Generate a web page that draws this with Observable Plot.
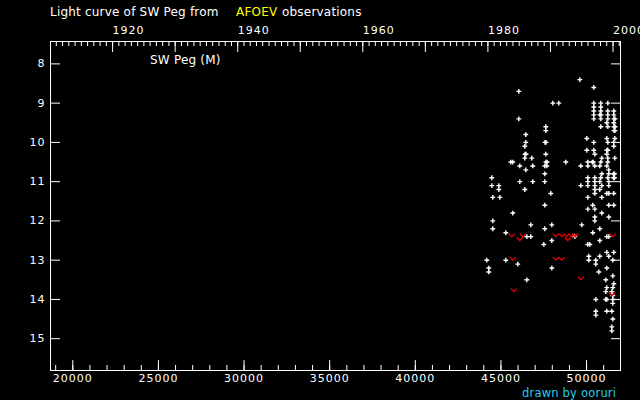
<!DOCTYPE html>
<html><head><meta charset="utf-8">
<script src="https://cdn.jsdelivr.net/npm/d3@7"></script>
<script src="https://cdn.jsdelivr.net/npm/@observablehq/plot@0.6"></script>
<style>
html,body{margin:0;padding:0;background:#000;overflow:hidden;}
#wrap{position:relative;width:640px;height:400px;background:#000;font-family:"DejaVu Sans",sans-serif;}
#wrap svg{display:block;}
.lbl{position:absolute;white-space:nowrap;font-size:12px;line-height:14px;color:#fff;letter-spacing:0.2px;}
</style></head><body><div id="wrap"></div>
<script>
// ---- data (JD - 2400000, visual magnitude) ----
const obsLevels = [8.4, 8.6, 8.7, 9.0, 9.1, 9.2, 9.3, 9.4, 9.5, 9.6, 9.7, 9.8, 9.9,
  10.0, 10.1, 10.2, 10.3, 10.4, 10.5, 10.6, 10.7, 10.8, 10.9,
  11.0, 11.1, 11.2, 11.3, 11.4, 11.6, 11.7, 11.8, 11.9,
  12.0, 12.1, 12.2, 12.3, 12.4, 12.5, 12.6, 12.8, 12.9,
  13.0, 13.1, 13.2, 13.3, 13.4, 13.5, 13.6, 13.7, 13.8, 13.9,
  14.0, 14.1, 14.3, 14.4, 14.5, 14.7, 14.8];
const obsDays = [
  [49606],
  [50423],
  [46044],
  [48029, 48380, 50423, 50832, 51241],
  [50423, 50832],
  [50423, 50832, 51241, 51591],
  [50423, 50774, 50850, 51241, 51591],
  [46044, 50423, 50832, 51241, 51603, 51662],
  [51182, 51591],
  [47620, 50832, 51241, 51603, 51662],
  [47620, 51603, 51662],
  [46453],
  [50015, 51182, 51650],
  [46453, 47574, 47632, 50423, 51241, 51591],
  [46394, 51591],
  [50015, 50423, 51182, 51241],
  [46406, 46464, 47620, 50482, 51182],
  [46394, 46803, 50890, 51241, 51650],
  [45577, 45693, 47632, 47690, 48788, 50073, 50336, 50394, 50832, 51241],
  [46102, 46861, 47562, 47679, 49664, 50073, 50482, 50774, 51182],
  [46453, 51299],
  [47562, 50890, 51299, 51574, 51632],
  [44467, 50073, 50482, 50832, 51241, 51574, 51632],
  [46102, 46861, 47562, 50073, 50482, 50774, 51299],
  [44467, 44876, 49664, 50073, 50482, 50890, 51299],
  [44876, 46394, 50482, 50774],
  [47912, 50482, 51182, 51299, 51591],
  [44525, 44934, 50073, 50890],
  [47562, 50365, 51299, 51591],
  [50073, 50482],
  [45693, 50890],
  [50482, 51299],
  [44525, 50482],
  [46744, 47971, 49723],
  [44525, 47562, 50774],
  [45285, 50365],
  [46511, 46744, 49314, 51182, 51299],
  [47971, 50774],
  [47504, 50073, 50190],
  [51182, 51591],
  [50131, 50774, 51299],
  [44175, 45285, 50131, 50540, 51533],
  [45985, 50540],
  [44292, 47971, 51182],
  [44292, 50715],
  [51533],
  [46511, 51124],
  [51591],
  [51182, 51533],
  [51124, 51474],
  [51533],
  [50540, 51124, 51182, 51533],
  [51533],
  [50540, 51182, 51474],
  [50540],
  [51533],
  [51474],
  [51474]
];
// "fainter than" observations
const limLevels = [12.4, 12.5, 13.0, 13.5, 13.8, 13.9];
const limDays = [
  [45635, 46277, 48204, 48554, 48829, 49104, 49314, 49330, 51533],
  [46102, 48905],
  [45693, 48204, 48554],
  [49664],
  [45752],
  [51486]
];
const magTicks = [8, 9, 10, 11, 12, 13, 14, 15];
const jdLabelTicks = [20000, 25000, 30000, 35000, 40000, 45000, 50000];
const yearLabels = [1920, 1940, 1960, 1980, 2000];
const titleParts = ["Light curve of SW Peg from", "AFOEV", "observations"];
const starLabel = "SW Peg (M)";
const credit = "drawn by ooruri";

// ---- build ----
const xDomain = [18698, 51982];
const obs = obsLevels.flatMap((m, i) => obsDays[i].map(d => ({jd: d, mag: m})));
const lims = limLevels.flatMap((m, i) => limDays[i].map(d => ({jd: d, mag: m})));
const jdOfYear = y => Date.UTC(y, 0, 1) / 86400000 + 2440587.5 - 2400000;
const yearOfJd = d => new Date((d + 2400000 - 2440587.5) * 86400000 + 43200000).getUTCFullYear();
const inX = d => d >= xDomain[0] && d <= xDomain[1];
const yearMinor = d3.range(1900, 2010).map(jdOfYear).filter(inX);
const yearMajor = d3.range(1900, 2010, 10).map(jdOfYear).filter(inX);
const yearLab = yearLabels.map(jdOfYear);
const jdMinor = d3.range(19000, 52001, 1000).filter(inX);

const plusSym = {draw(c) { c.rect(-2.4, -0.7, 4.8, 1.4); c.rect(-0.7, -2.4, 1.4, 4.8); }};
const vSym = {draw(c) { c.moveTo(-3, -3); c.lineTo(0, 0); c.lineTo(3, -3); }};

const chart = Plot.plot({
  width: 640, height: 400,
  marginLeft: 50, marginRight: 20, marginTop: 41, marginBottom: 30,
  style: {background: "black", color: "white", fontFamily: "DejaVu Sans, sans-serif", fontSize: "11px"},
  x: {domain: xDomain},
  y: {domain: [15.81, 7.43]},
  marks: [
    Plot.frame({stroke: "white"}),
    // left axis
    Plot.axisY({anchor: "left", ticks: magTicks, tickSize: -10, fill: "none", label: null}),
    Plot.axisY({anchor: "left", ticks: magTicks, tickSize: 0, tickPadding: 5, label: null, tickFormat: d => String(d)}),
    // right axis ticks
    Plot.axisY({anchor: "right", ticks: magTicks, tickSize: -10, fill: "none", label: null}),
    // bottom axis
    Plot.axisX({anchor: "bottom", ticks: jdMinor, tickSize: -5, fill: "none", label: null}),
    Plot.axisX({anchor: "bottom", ticks: jdLabelTicks, tickSize: -10, fill: "none", label: null}),
    Plot.axisX({anchor: "bottom", ticks: jdLabelTicks, tickSize: 0, tickPadding: 4, label: null, tickFormat: d => String(d)}),
    // top axis (years)
    Plot.axisX({anchor: "top", ticks: yearMinor, tickSize: -4, fill: "none", label: null}),
    Plot.axisX({anchor: "top", ticks: yearMajor, tickSize: -10, fill: "none", label: null}),
    Plot.axisX({anchor: "top", ticks: yearLab, tickSize: 0, tickPadding: 8, textAnchor: "start", label: null, tickFormat: d => String(yearOfJd(d))}),
    // data
    Plot.dot(obs, {x: "jd", y: "mag", symbol: plusSym, fill: "white", stroke: "none"}),
    Plot.dot(lims, {x: "jd", y: "mag", symbol: vSym, fill: "none", stroke: "#ee0000", strokeWidth: 1.3})
  ]
});
chart.querySelectorAll("text").forEach(t => t.setAttribute("letter-spacing", "1"));
const wrap = document.getElementById("wrap");
wrap.appendChild(chart);
function addLabel(text, left, top, color, size) {
  const s = document.createElement("div");
  s.className = "lbl";
  s.textContent = text;
  s.style.left = left + "px";
  s.style.top = top + "px";
  s.style.color = color;
  if (size) s.style.fontSize = size + "px";
  wrap.appendChild(s);
}
addLabel(titleParts[0], 50, 5, "#ffffff");
addLabel(titleParts[1], 236, 5, "#ffff00");
addLabel(titleParts[2], 282, 5, "#ffffff");
addLabel(starLabel, 150, 53, "#ffffff");
addLabel(credit, 522, 386, "#22ccee", 11.5);
</script>
</body></html>
